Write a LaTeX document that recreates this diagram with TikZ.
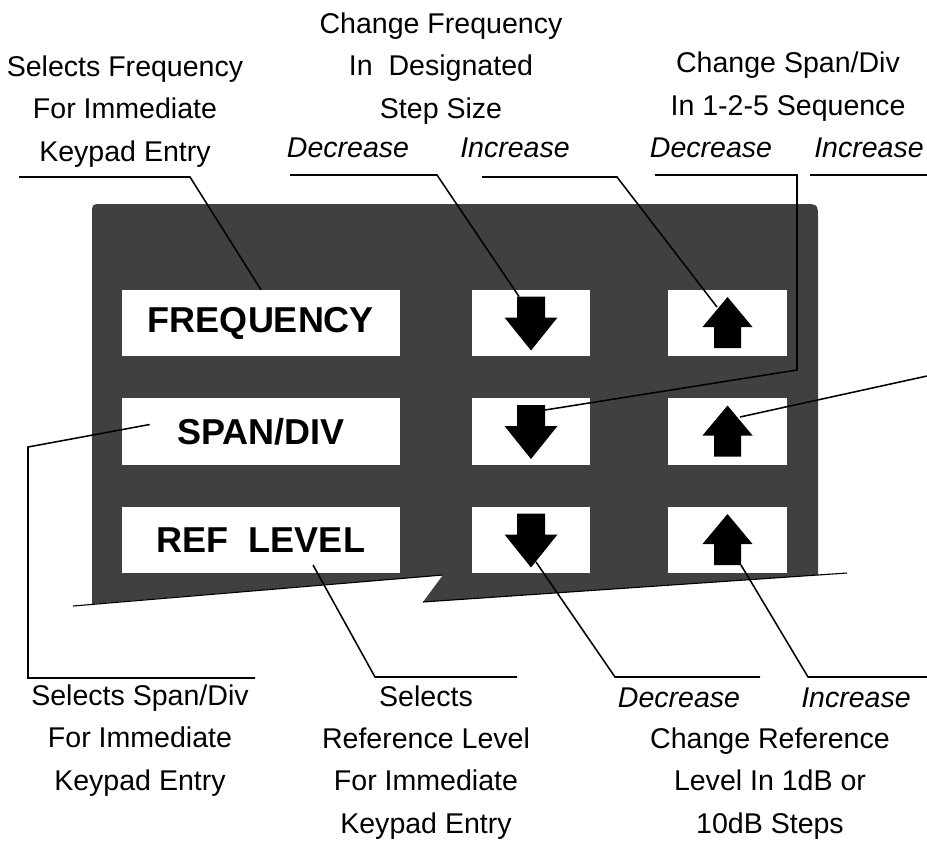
\documentclass[tikz,border=0pt]{standalone}
\usepackage{fontspec}
\setmainfont{Liberation Sans}
\usetikzlibrary{calc}

\tikzset{
    panel/.style={fill=black!75},
    key/.style={fill=white, inner sep=0pt, minimum height=1.65cm},
    wide key/.style={key, minimum width=6.95cm, font=\fontsize{25.6}{30}\selectfont\bfseries},
    arrow key/.style={key, minimum width=2.95cm},
    note/.style={align=center, anchor=base, font=\fontsize{20.3}{29.9}\selectfont},
    sense/.style={anchor=base, font=\fontsize{20.3}{29.9}\selectfont\itshape},
    leader/.style={line width=1.1pt},
    keydn/.pic={\fill (-14,-26.5) -- (14,-26.5) -- (14,-5.5) -- (26.5,-5.5) -- (0,27.5) -- (-26.5,-5.5) -- (-14,-5.5) -- cycle;},
    keyup/.pic={\fill (0,-26) -- (25,4) -- (13.5,4) -- (13.5,25) -- (-13.5,25) -- (-13.5,4) -- (-25,4) -- cycle;}
}

\begin{document}
\begin{tikzpicture}[x=0.025cm, y=-0.025cm]
    \useasboundingbox (0,0) rectangle (927,843);

    % Front panel (broken off at the bottom)
    \fill[panel] (443,575) -- (92,604) -- (92,214) .. controls (92,204) .. (102,204)
        -- (803,204) .. controls (818,204) .. (818,219) -- (818,575) -- (423,602) -- cycle;
    \draw[line width=0.8pt] (73,606) -- (443,575);
    \draw[line width=0.8pt] (423,602) -- (847,573);

    % Row 1
    \node[wide key] (fq) at (261,323) {FREQUENCY};
    \node[arrow key] (dn1) at (531,323) {};
    \node[arrow key] (up1) at (727.5,323) {};
    \pic at (dn1.center) {keydn};
    \pic at (up1.center) {keyup};

    % Row 2
    \node[wide key] (sp) at (261,431.5) {SPAN/DIV};
    \node[arrow key] (dn2) at (531,431.5) {};
    \node[arrow key] (up2) at (727.5,431.5) {};
    \pic at (dn2.center) {keydn};
    \pic at (up2.center) {keyup};

    % Row 3
    \node[wide key] (rl) at (261,540) {REF\ \ LEVEL};
    \node[arrow key] (dn3) at (531,540) {};
    \node[arrow key] (up3) at (727.5,540) {};
    \pic at (dn3.center) {keydn};
    \pic at (up3.center) {keyup};

    % Labels above (placed by the baseline of their last line)
    \node[note] (selfreq) at (125,161) {Selects Frequency\\For Immediate\\Keypad Entry};
    \node[note] (chfreq) at (441,118) {Change Frequency\\In\ \ Designated\\Step Size};
    \node[note] (chspan) at (788,115) {Change Span/Div\\In 1-2-5 Sequence};
    \node[sense] (fdec) at (348,157) {Decrease};
    \node[sense] (finc) at (515,157) {Increase};
    \node[sense] (sdec) at (711,157) {Decrease};
    \node[sense] (sinc) at (869,157) {Increase};

    % Labels below
    \node[note] (selspan) at (140,790) {Selects Span/Div\\For Immediate\\Keypad Entry};
    \node[note] (selref) at (426,833) {Selects\\Reference Level\\For Immediate\\Keypad Entry};
    \node[sense] (rdec) at (679,707) {Decrease};
    \node[sense] (rinc) at (856,707) {Increase};
    \node[note] (chref) at (770,833) {Change Reference\\Level In 1dB or\\10dB Steps};

    % Leader lines
    \coordinate (u1a) at (19,177);   \coordinate (u1b) at (190,177);
    \coordinate (u2a) at (290,175);  \coordinate (u2b) at (437,175);
    \coordinate (u3a) at (482,177);  \coordinate (u3b) at (617,177);
    \coordinate (u4a) at (655,175);  \coordinate (u4b) at (797,175);
    \coordinate (u4c) at (797,370);
    \coordinate (u5a) at (810,175);  \coordinate (u5b) at (927,175);
    \coordinate (e5) at (927,376);
    \coordinate (b6) at (28,447);    \coordinate (b6c) at (28,678);
    \coordinate (u6b) at (255,678);
    \coordinate (b7) at (375,677);   \coordinate (u7b) at (517,677);
    \coordinate (b8) at (615,677);   \coordinate (u8b) at (760,677);
    \coordinate (b9) at (808,677);   \coordinate (u9b) at (927,677);

    \draw[leader] (u1a) -- (u1b) -- (fq.north);
    \draw[leader] (u2a) -- (u2b) -- ($(dn1.center)+(-12,-26.5)$);
    \draw[leader] (u3a) -- (u3b) -- ($(up1.center)+(-10.5,-16)$);
    \draw[leader] (u4a) -- (u4b) -- (u4c) -- ($(dn2.center)+(14,-21.5)$);
    \draw[leader] (u5a) -- (u5b);
    \draw[leader] (e5) -- ($(up2.center)+(12.5,-14.5)$);
    \draw[leader] ($(sp.west)+(28,-7)$) -- (b6) -- (b6c) -- (u6b);
    \draw[leader] ($(rl.center)+(52,25)$) -- (b7) -- (u7b);
    \draw[leader] ($(dn3.center)+(5,22)$) -- (b8) -- (u8b);
    \draw[leader] ($(up3.center)+(13.5,25)$) -- (b9) -- (u9b);
\end{tikzpicture}
\end{document}
